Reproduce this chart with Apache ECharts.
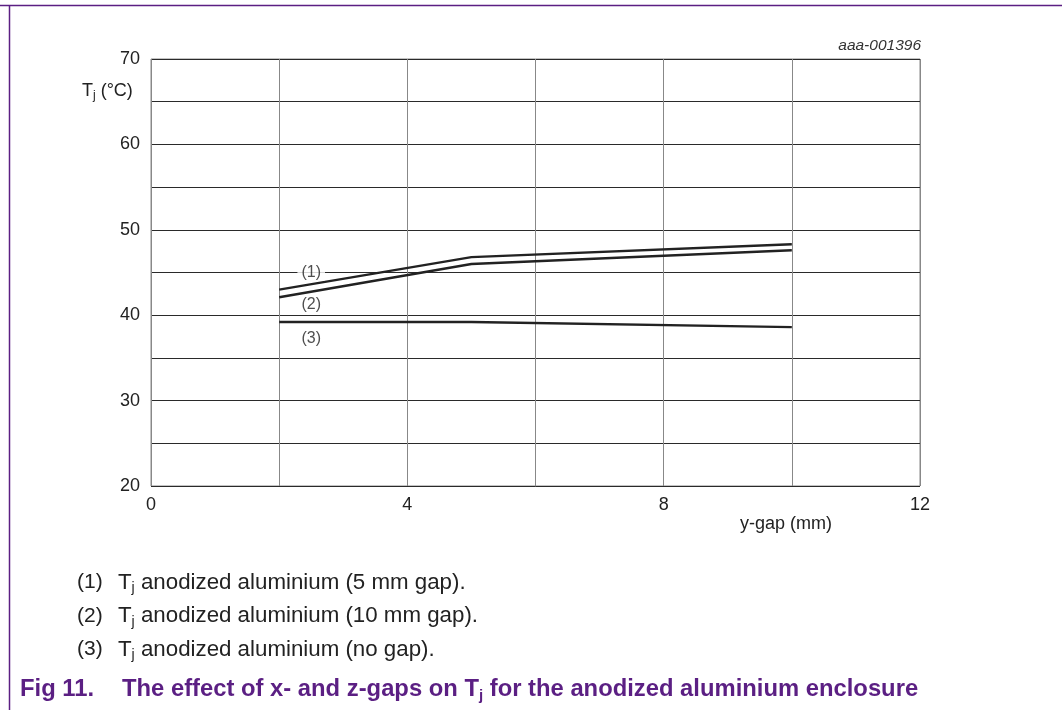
<!DOCTYPE html>
<html>
<head>
<meta charset="utf-8">
<script src="https://cdn.jsdelivr.net/npm/echarts@6/dist/echarts.min.js"></script>
<style>
  html, body { margin: 0; padding: 0; background: #fff; }
  #chart { width: 1062px; height: 710px; }
</style>
</head>
<body>
<div id="chart"></div>
<script>
// y-gap positions (mm) where the junction temperature was evaluated
const yGap = [2, 5, 10];
// Junction temperature Tj (°C) per enclosure variant
const tj5mmGap = [43.0, 46.8, 48.3];
const tj10mmGap = [42.1, 46.0, 47.6];
const tjNoGap = [39.2, 39.2, 38.6];
// Curve tags placed next to the curves: [x, y, text]
const curveTags = [[2.5, 45.0, '(1)'], [2.5, 41.2, '(2)'], [2.5, 37.3, '(3)']];
// Legend rows below the chart
const legendItems = [
  ['(1)', 'anodized aluminium (5 mm gap).'],
  ['(2)', 'anodized aluminium (10 mm gap).'],
  ['(3)', 'anodized aluminium (no gap).']
];
const xTicks = [0, 4, 8, 12];

const FONT = '"Liberation Sans", Arial, sans-serif';
const PURPLE = '#5b1f83';
const INK = '#222';

const toPairs = (xs, ys) => xs.map((x, i) => [x, ys[i]]);

const chart = echarts.init(document.getElementById('chart'));

const lineStyle = { color: INK, width: 2.4 };

const legendGraphics = [];
legendItems.forEach((item, i) => {
  const y = 582.5 + i * 33.5;
  legendGraphics.push({ type: 'text', x: 77, y: y, style: {
    text: item[0], font: '21px ' + FONT, fill: INK, textVerticalAlign: 'middle' } });
  legendGraphics.push({ type: 'text', x: 118, y: y, style: {
    text: '{t|T}{s|j}{t| ' + item[1] + '}', textVerticalAlign: 'middle',
    rich: {
      t: { font: '22.3px ' + FONT, fill: INK },
      s: { font: '14px ' + FONT, fill: INK, padding: [12, 0, 0, 0] }
    }
  } });
});

chart.setOption({
  animation: false,
  grid: { left: 151, right: 142, top: 59, bottom: 224, containLabel: false,
          show: true, borderColor: '#888', borderWidth: 1 },
  xAxis: {
    type: 'value', min: 0, max: 12, interval: 2,
    axisLine: { show: false },
    axisTick: { show: false },
    splitLine: { show: true, lineStyle: { color: '#888', width: 1 } },
    axisLabel: {
      fontFamily: FONT, fontSize: 18, color: INK, margin: 10,
      formatter: v => xTicks.indexOf(v) >= 0 ? String(v) : ''
    }
  },
  yAxis: {
    type: 'value', min: 20, max: 70, interval: 5,
    axisLine: { show: false },
    axisTick: { show: false },
    splitLine: { show: true, lineStyle: { color: '#2a2a2a', width: 1 } },
    axisLabel: {
      fontFamily: FONT, fontSize: 18, color: INK, margin: 11,
      formatter: v => v % 10 === 0 ? String(v) : ''
    }
  },
  series: [
    { type: 'line', data: toPairs(yGap, tj5mmGap), symbol: 'none', lineStyle: lineStyle, z: 5 },
    { type: 'line', data: toPairs(yGap, tj10mmGap), symbol: 'none', lineStyle: lineStyle, z: 5 },
    { type: 'line', data: toPairs(yGap, tjNoGap), symbol: 'none', lineStyle: lineStyle, z: 5 },
    {
      type: 'scatter', data: curveTags, symbolSize: 0, z: 6,
      label: {
        show: true, position: 'inside',
        formatter: p => p.data[2],
        fontFamily: FONT, fontSize: 16, color: INK,
        backgroundColor: '#fff', padding: [0, 4]
      }
    }
  ],
  graphic: [
    // page frame
    { type: 'line', shape: { x1: 0, y1: 5.5, x2: 1062, y2: 5.5 }, style: { stroke: PURPLE, lineWidth: 1.5 } },
    { type: 'line', shape: { x1: 9.5, y1: 5, x2: 9.5, y2: 710 }, style: { stroke: PURPLE, lineWidth: 1.5 } },
    // drawing reference
    { type: 'text', x: 921, y: 46, style: { text: 'aaa-001396', font: 'italic 15.5px ' + FONT, fill: '#333',
        textAlign: 'right', textVerticalAlign: 'middle' } },
    // axis titles
    { type: 'text', x: 82, y: 91, style: {
        text: '{t|T}{s|j}{t| (°C)}', textVerticalAlign: 'middle',
        rich: {
          t: { font: '18px ' + FONT, fill: INK },
          s: { font: '12px ' + FONT, fill: INK, padding: [10, 0, 0, 0] }
        }
      } },
    { type: 'text', x: 740, y: 524, style: { text: 'y-gap (mm)', font: '18px ' + FONT, fill: INK,
        textVerticalAlign: 'middle' } },
    // caption
    { type: 'text', x: 20, y: 689, style: {
        text: '{b|Fig 11.}', textVerticalAlign: 'middle',
        rich: { b: { font: 'bold 23.8px ' + FONT, fill: PURPLE }, s: { font: 'bold 15px ' + FONT, padding: [13, 0, 0, 0] } }
      } },
    { type: 'text', x: 122, y: 689, style: {
        text: '{b|The effect of x- and z-gaps on T}{s|j}{b| for the anodized aluminium enclosure}',
        textVerticalAlign: 'middle',
        rich: {
          b: { font: 'bold 23.8px ' + FONT, fill: PURPLE },
          s: { font: 'bold 15px ' + FONT, fill: PURPLE, padding: [13, 0, 0, 0] }
        }
      } }
  ].concat(legendGraphics)
});
</script>
</body>
</html>
